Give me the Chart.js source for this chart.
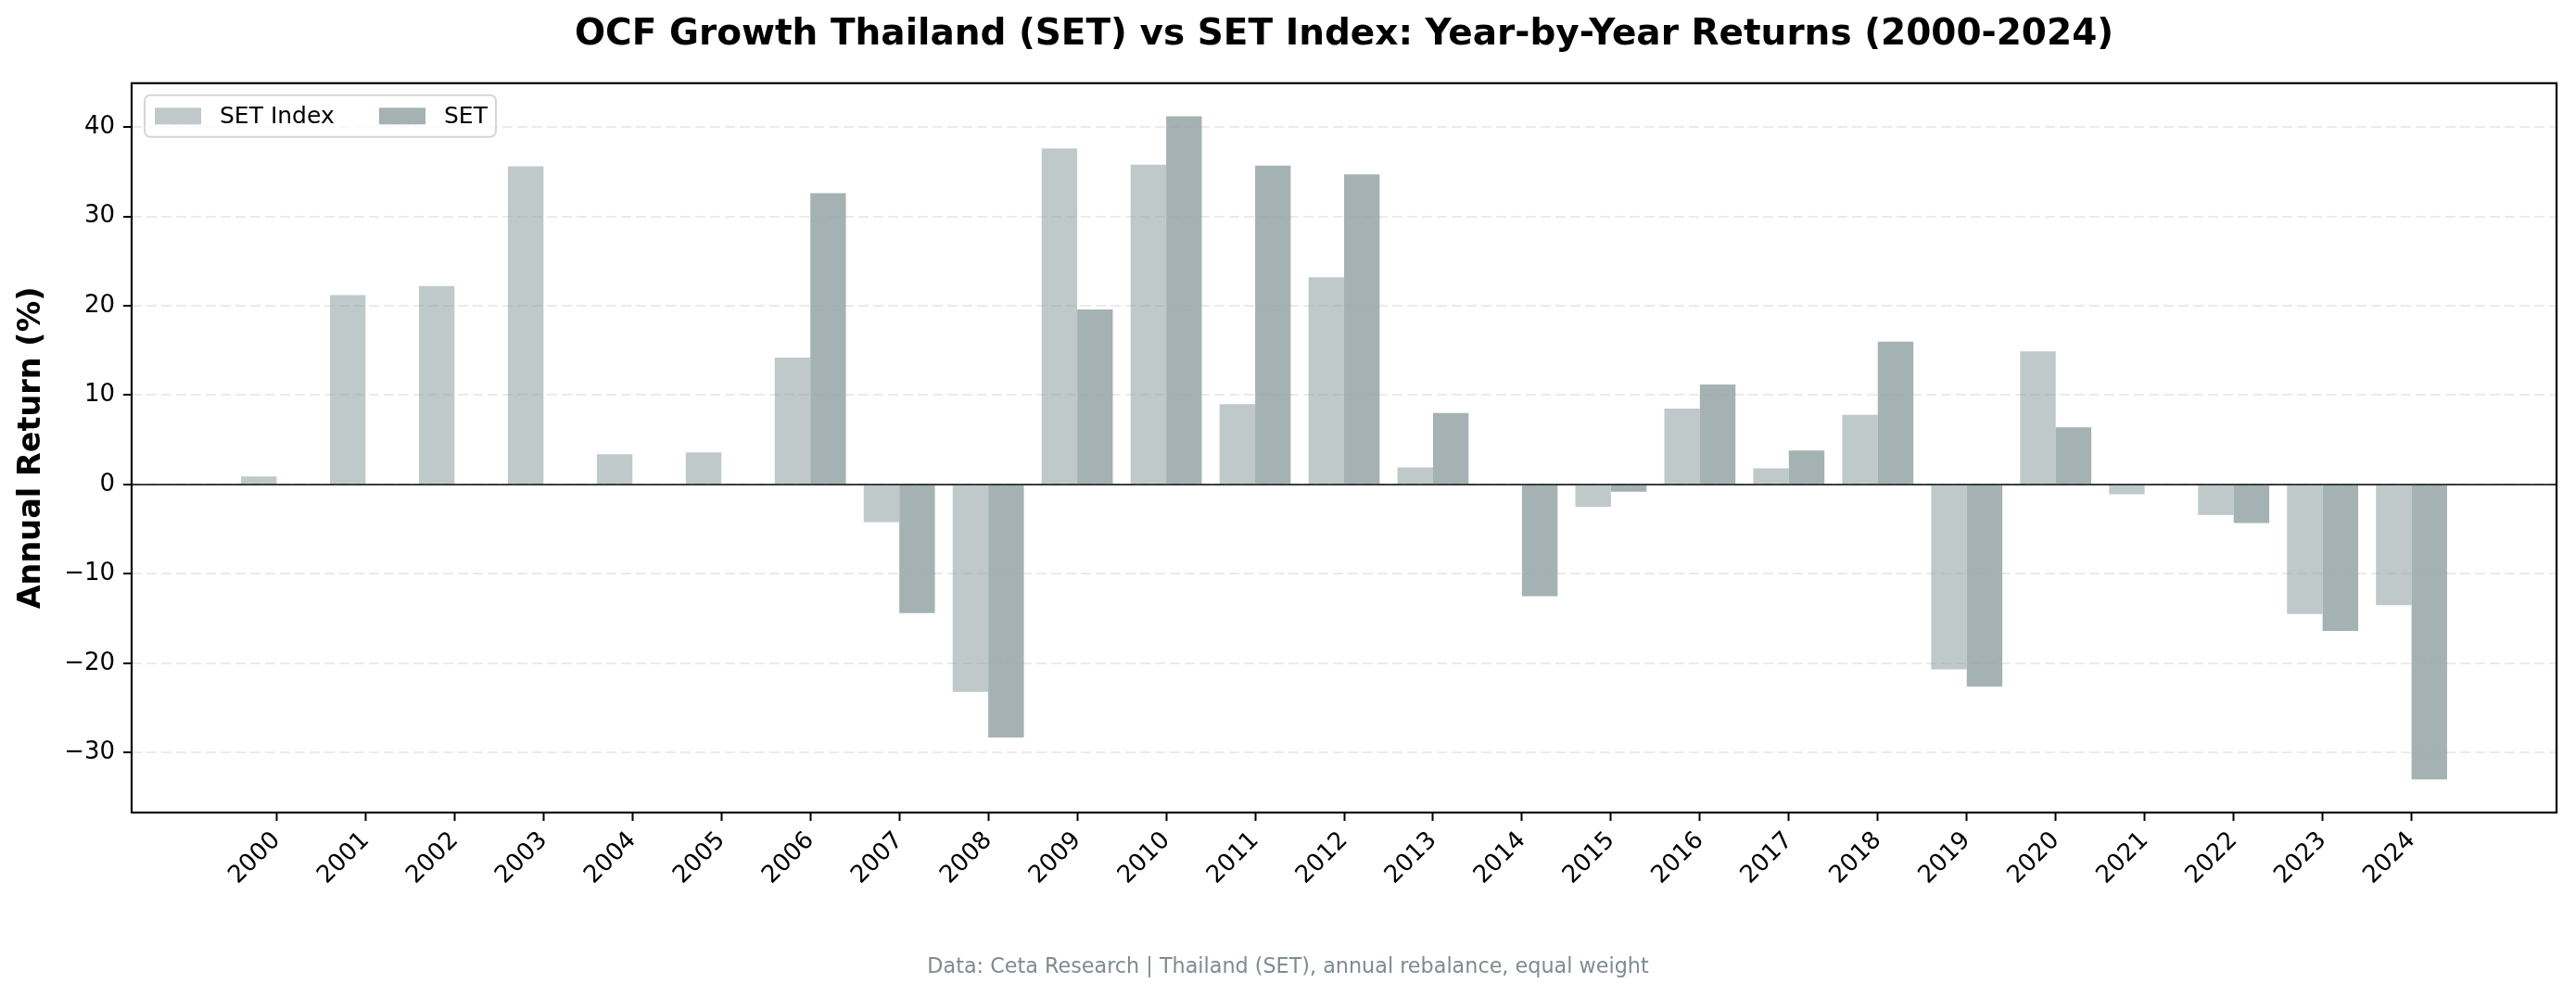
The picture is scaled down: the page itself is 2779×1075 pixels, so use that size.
<!DOCTYPE html>
<html>
<head>
<meta charset="utf-8">
<title>OCF Growth Thailand (SET) vs SET Index</title>
<script src="https://cdn.jsdelivr.net/npm/chart.js@4.4.1/dist/chart.umd.min.js"></script>
<style>
  html, body { margin: 0; padding: 0; background: #fff; }
</style>
</head>
<body>
<canvas id="chart" width="2779" height="1075"></canvas>
<script>
const years = ["2000", "2001", "2002", "2003", "2004", "2005", "2006", "2007", "2008", "2009",
  "2010", "2011", "2012", "2013", "2014", "2015", "2016", "2017", "2018", "2019",
  "2020", "2021", "2022", "2023", "2024"];
const setIndexReturns = [0.9, 21.2, 22.2, 35.6, 3.4, 3.6, 14.2, -4.2, -23.2, 37.6,
  35.8, 9.0, 23.2, 1.9, null, -2.5, 8.5, 1.8, 7.8, -20.7,
  14.9, -1.1, -3.4, -14.5, -13.5];
const setReturns = [null, null, null, null, null, null, 32.6, -14.4, -28.3, 19.6,
  41.2, 35.7, 34.7, 8.0, -12.5, -0.8, 11.2, 3.8, 16.0, -22.6,
  6.4, null, -4.3, -16.4, -33.0];
const yTicks = [-30, -20, -10, 0, 10, 20, 30, 40];

const FONT = "'DejaVu Sans', sans-serif";
const FOOTER = "Data: Ceta Research | Thailand (SET), annual rebalance, equal weight";

// matplotlib-like 5% margin on the value axis
const allVals = setIndexReturns.concat(setReturns).filter(v => v !== null);
const lo = Math.min(...allVals), hi = Math.max(...allVals);
const pad = (hi - lo) * 0.05;

function toPoints(vals) {
  return vals.map((v, i) => ({ x: i, y: v }));
}

function fmtTick(v) {
  return v < 0 ? "\u2212" + Math.abs(v) : String(v);
}

// axes box, zero line, legend inside the plot and the footer note
const framePlugin = {
  id: "frame",
  afterDatasetsDraw(chart) {
    const { ctx, chartArea: a, scales } = chart;
    const y0 = scales.y.getPixelForValue(0);
    ctx.save();
    ctx.strokeStyle = "#000";
    ctx.lineWidth = 1.5;
    ctx.beginPath();
    ctx.moveTo(a.left, y0);
    ctx.lineTo(a.right, y0);
    ctx.stroke();
    ctx.lineWidth = 2.2;
    ctx.strokeRect(a.left, a.top, a.right - a.left, a.bottom - a.top);

    // legend
    const bx = a.left + 14, by = a.top + 13, bw = 379, bh = 45;
    ctx.fillStyle = "rgba(255,255,255,0.8)";
    ctx.strokeStyle = "#d6d6d6";
    ctx.lineWidth = 2;
    ctx.beginPath();
    ctx.roundRect(bx, by, bw, bh, 6);
    ctx.fill();
    ctx.stroke();
    ctx.font = "25px " + FONT;
    ctx.textBaseline = "middle";
    ctx.textAlign = "left";
    const cy = by + bh / 2;
    const offsets = [11, 253];
    chart.data.datasets.forEach((ds, i) => {
      const px = bx + offsets[i];
      ctx.fillStyle = ds.backgroundColor;
      ctx.fillRect(px, cy - 9, 50, 18);
      ctx.fillStyle = "#000";
      ctx.fillText(ds.label, px + 70, cy + 1);
    });

    // footer centred on the whole figure
    ctx.font = "22.3px " + FONT;
    ctx.fillStyle = "#7f8c8d";
    ctx.textAlign = "center";
    ctx.fillText(FOOTER, chart.width / 2, 1044);
    ctx.restore();
  }
};

new Chart(document.getElementById("chart"), {
  type: "bar",
  data: {
    datasets: [
      {
        label: "SET Index",
        data: toPoints(setIndexReturns),
        backgroundColor: "rgba(149,165,166,0.6)",
        borderWidth: 0
      },
      {
        label: "SET",
        data: toPoints(setReturns),
        backgroundColor: "rgba(149,165,166,0.85)",
        borderWidth: 0
      }
    ]
  },
  options: {
    responsive: false,
    animation: false,
    categoryPercentage: 0.8,
    barPercentage: 1.0,
    layout: { padding: { left: 0, right: 21, top: 0, bottom: 0 } },
    plugins: {
      legend: { display: false },
      tooltip: { enabled: false },
      title: {
        display: true,
        text: "OCF Growth Thailand (SET) vs SET Index: Year-by-Year Returns (2000-2024)",
        color: "#000",
        fullSize: false,
        font: { family: FONT, size: 39, weight: "bold", lineHeight: 1.2 },
        padding: { top: 14, bottom: 29 }
      }
    },
    scales: {
      x: {
        type: "linear",
        offset: false,
        min: -1.63,
        max: years.length - 1 + 1.63,
        afterBuildTicks(scale) {
          scale.ticks = years.map((y, i) => ({ value: i }));
        },
        afterFit(scale) {
          scale.height = 1075 - 877;
        },
        grid: {
          display: true,
          offset: false,
          drawOnChartArea: false,
          drawTicks: true,
          tickLength: 9,
          tickWidth: 2,
          tickColor: "#000"
        },
        border: { display: false },
        ticks: {
          autoSkip: false,
          minRotation: 45,
          maxRotation: 45,
          padding: 6,
          color: "#000",
          font: { family: FONT, size: 26 },
          callback: v => years[v]
        }
      },
      y: {
        min: lo - pad,
        max: hi + pad,
        afterBuildTicks(scale) {
          scale.ticks = yTicks.map(v => ({ value: v }));
        },
        afterFit(scale) {
          scale.width = 142;
        },
        grid: {
          color: "#ebebeb",
          lineWidth: 2,
          drawTicks: true,
          tickLength: 9,
          tickWidth: 2,
          tickColor: "#000"
        },
        border: { display: false, dash: [11, 5] },
        ticks: {
          padding: 9,
          color: "#000",
          font: { family: FONT, size: 26 },
          callback: fmtTick
        },
        title: {
          display: true,
          text: "Annual Return (%)",
          color: "#000",
          font: { family: FONT, size: 33.5, weight: "bold", lineHeight: 1.2 },
          padding: { top: 14, bottom: 0 }
        }
      }
    }
  },
  plugins: [framePlugin]
});
</script>
</body>
</html>
